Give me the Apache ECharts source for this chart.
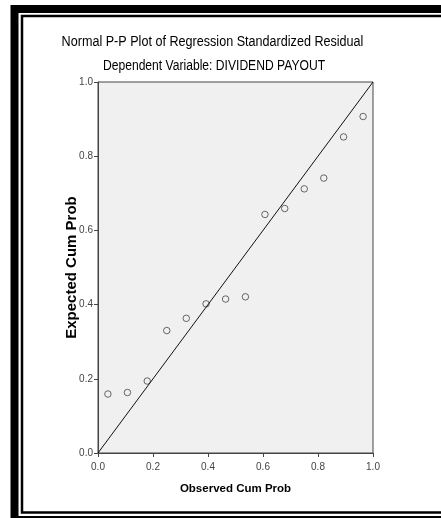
<!DOCTYPE html>
<html>
<head>
<meta charset="utf-8">
<script src="https://cdn.jsdelivr.net/npm/echarts@6/dist/echarts.min.js"></script>
<style>
html,body{margin:0;padding:0;background:#fff;overflow:hidden;}
#c{width:441px;height:518px;}
</style>
</head>
<body>
<div id="c"></div>
<script>
var titleText = "Normal P-P Plot of Regression Standardized Residual";
var subtitleText = "Dependent Variable: DIVIDEND PAYOUT";
var xAxisName = "Observed Cum Prob";
var yAxisName = "Expected Cum Prob";
var observed = [0.036, 0.107, 0.179, 0.250, 0.321, 0.393, 0.464, 0.536, 0.607, 0.679, 0.750, 0.821, 0.893, 0.964];
var expected = [0.159, 0.163, 0.194, 0.330, 0.363, 0.402, 0.415, 0.421, 0.643, 0.659, 0.712, 0.741, 0.852, 0.907];
var refLineX = [0, 1];
var refLineY = [0, 1];

var points = observed.map(function (x, i) { return [x, expected[i]]; });
var refLine = refLineX.map(function (x, i) { return [x, refLineY[i]]; });

var sans = "'Liberation Sans',Arial,sans-serif";
var chart = echarts.init(document.getElementById('c'), null, {renderer: 'canvas'});
chart.setOption({
  animation: false,
  backgroundColor: '#fff',
  graphic: [
    {type: 'rect', shape: {x: 14.5, y: 9, width: 440, height: 511}, style: {fill: 'none', stroke: '#000', lineWidth: 8}, silent: true},
    {type: 'rect', shape: {x: 22, y: 16, width: 430, height: 496.5}, style: {fill: 'none', stroke: '#000', lineWidth: 2.5}, silent: true},
    {type: 'text', x: 212.5, y: 42, scaleX: 0.9, silent: true,
     style: {text: titleText, font: "14px 'Liberation Sans',Arial,sans-serif", fill: '#000', textAlign: 'center', textVerticalAlign: 'middle'}},
    {type: 'text', x: 214, y: 66, scaleX: 0.865, silent: true,
     style: {text: subtitleText, font: "14px 'Liberation Sans',Arial,sans-serif", fill: '#000', textAlign: 'center', textVerticalAlign: 'middle'}}
  ],
  grid: {left: 98, top: 82, width: 275, height: 371, show: true, backgroundColor: '#f0f0f0', borderColor: '#444', borderWidth: 1},
  xAxis: {
    type: 'value', min: 0, max: 1, interval: 0.2,
    name: xAxisName, nameLocation: 'middle', nameGap: 30, nameMoveOverlap: false,
    nameTextStyle: {fontFamily: sans, fontSize: 11.5, fontWeight: 'bold', color: '#000'},
    axisLine: {show: true, lineStyle: {color: '#444', width: 1}},
    axisTick: {show: true, inside: false, length: 4, lineStyle: {color: '#444'}},
    axisLabel: {formatter: function (v) { return v.toFixed(1); }, fontFamily: sans, fontSize: 10, color: '#444', margin: 9},
    splitLine: {show: false}
  },
  yAxis: {
    type: 'value', min: 0, max: 1, interval: 0.2,
    name: yAxisName, nameLocation: 'middle', nameGap: 19, nameMoveOverlap: false,
    nameTextStyle: {fontFamily: sans, fontSize: 15, fontWeight: 'bold', color: '#000'},
    axisLine: {show: true, lineStyle: {color: '#444', width: 1}},
    axisTick: {show: true, inside: false, length: 4, lineStyle: {color: '#444'}},
    axisLabel: {formatter: function (v) { return v.toFixed(1); }, fontFamily: sans, fontSize: 10, color: '#444', margin: 5},
    splitLine: {show: false}
  },
  series: [
    {type: 'line', data: refLine, symbol: 'none', lineStyle: {color: '#111', width: 1}, silent: true},
    {type: 'scatter', data: points, symbol: 'circle', symbolSize: 6.5,
     itemStyle: {color: 'rgba(0,0,0,0)', borderColor: '#444', borderWidth: 1}}
  ]
});
</script>
</body>
</html>
